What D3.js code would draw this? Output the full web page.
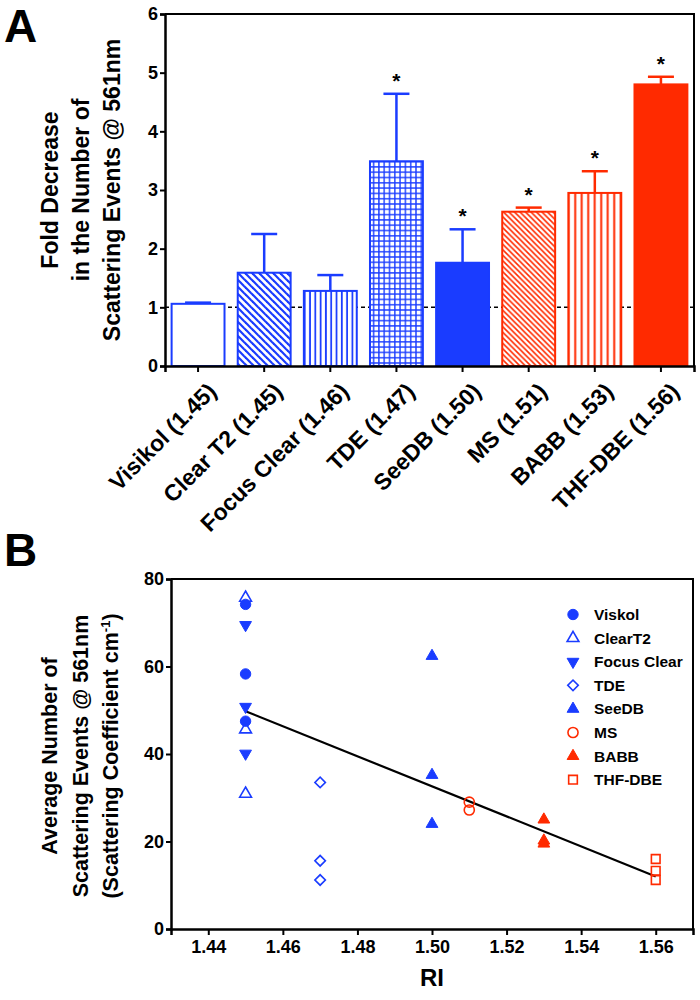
<!DOCTYPE html>
<html>
<head>
<meta charset="utf-8">
<script src="https://cdn.jsdelivr.net/npm/d3@7"></script>
<style>
body { margin: 0; background: #fff; }
svg { font-family: "Liberation Sans", Arial, sans-serif; font-weight: bold; }
</style>
</head>
<body>
<svg id="chart" width="700" height="1000"></svg>
<script>
// ---- panel A data ----
var solvents = ["Visikol (1.45)", "Clear T2 (1.45)", "Focus Clear (1.46)", "TDE (1.47)",
                "SeeDB (1.50)", "MS (1.51)", "BABB (1.53)", "THF-DBE (1.56)"];
var foldMeans = [1.06, 1.59, 1.28, 3.49, 1.76, 2.63, 2.95, 4.80];
var foldErrs  = [0.02, 0.66, 0.27, 1.15, 0.57, 0.07, 0.37, 0.13];
var foldSig   = [false, false, false, true, true, true, true, true];
var foldTicks = [0, 1, 2, 3, 4, 5, 6];

// ---- panel B data ----
var groupNames = ["Viskol", "ClearT2", "Focus Clear", "TDE", "SeeDB", "MS", "BABB", "THF-DBE"];
var groupRI    = [1.45, 1.45, 1.45, 1.47, 1.50, 1.51, 1.53, 1.56];
var viskolVals  = [74.2, 58.3, 47.5];
var clearT2Vals = [75.7, 45.6, 30.9];
var focusVals   = [69.5, 50.8, 40.1];
var tdeVals     = [33.5, 15.6, 11.2];
var seedbVals   = [62.4, 35.2, 24.0];
var msVals      = [29.0, 27.2];
var babbVals    = [25.0, 20.2, 19.5];
var thfVals     = [16.0, 13.3, 11.2];
var groupVals = [viskolVals, clearT2Vals, focusVals, tdeVals, seedbVals, msVals, babbVals, thfVals];
var riTicks = [1.44, 1.46, 1.48, 1.50, 1.52, 1.54, 1.56];
var scatTicks = [0, 20, 40, 60, 80];

var BLUE = "#1a3cff", RED = "#ff2a00";

var svg = d3.select("#chart");
var defs = svg.append("defs");

// hatch patterns
function linePattern(id, color, size, lines, sw) {
    var p = defs.append("pattern").attr("id", id).attr("patternUnits", "userSpaceOnUse")
        .attr("width", size).attr("height", size);
    p.append("rect").attr("width", size).attr("height", size).attr("fill", "#fff");
    lines.forEach(function(l) {
        p.append("line").attr("x1", l[0]).attr("y1", l[1]).attr("x2", l[2]).attr("y2", l[3])
            .attr("stroke", color).attr("stroke-width", sw);
    });
}
linePattern("diagBlue", BLUE, 7, [[0, 0, 7, 7], [-1, 6, 1, 8], [6, -1, 8, 1]], 2.2);
linePattern("vertBlue", BLUE, 5.3, [[2.6, 0, 2.6, 5.3]], 1.8);
linePattern("gridBlue", BLUE, 5.3, [[2.6, 0, 2.6, 5.3], [0, 2.6, 5.3, 2.6]], 1.4);
linePattern("diagRed", RED, 5.5, [[0, 0, 5.5, 5.5], [-1, 4.5, 1, 6.5], [4.5, -1, 6.5, 1]], 1.6);
linePattern("vertRed", RED, 6.5, [[3.2, 0, 3.2, 6.5]], 2);

var barFills = ["#fff", "url(#diagBlue)", "url(#vertBlue)", "url(#gridBlue)", BLUE,
                "url(#diagRed)", "url(#vertRed)", RED];
var barColors = [BLUE, BLUE, BLUE, BLUE, BLUE, RED, RED, RED];

// ================= Panel A =================
var ax0 = 165, ax1 = 694, ay0 = 366, ay1 = 14;
var xA = d3.scaleBand().domain(solvents).range([ax0, ax1]).paddingInner(0.2).paddingOuter(0.1);
var yA = d3.scaleLinear().domain([0, 6]).range([ay0, ay1]);

svg.append("text").attr("x", 4).attr("y", 42).attr("font-size", 46).text("A");

// dashed line at 1
svg.append("line").attr("x1", ax0).attr("x2", ax1).attr("y1", yA(1)).attr("y2", yA(1))
    .attr("stroke", "#000").attr("stroke-width", 1.5).attr("stroke-dasharray", "4,3");

var gA = svg.append("g");
gA.selectAll("rect.bar").data(solvents).enter().append("rect")
    .attr("class", "bar")
    .attr("x", function(d) { return xA(d); })
    .attr("y", function(d, i) { return yA(foldMeans[i]); })
    .attr("width", xA.bandwidth())
    .attr("height", function(d, i) { return yA(0) - yA(foldMeans[i]); })
    .attr("fill", function(d, i) { return barFills[i]; })
    .attr("stroke", function(d, i) { return barColors[i]; })
    .attr("stroke-width", 2);

// error bars (upper only)
solvents.forEach(function(d, i) {
    var cx = xA(d) + xA.bandwidth() / 2;
    var top = yA(foldMeans[i] + foldErrs[i]);
    gA.append("line").attr("x1", cx).attr("x2", cx).attr("y1", yA(foldMeans[i])).attr("y2", top)
        .attr("stroke", barColors[i]).attr("stroke-width", 2.5);
    gA.append("line").attr("x1", cx - 13).attr("x2", cx + 13).attr("y1", top).attr("y2", top)
        .attr("stroke", barColors[i]).attr("stroke-width", 2.5);
    if (foldSig[i]) {
        gA.append("text").attr("x", cx).attr("y", top - 6).attr("text-anchor", "middle")
            .attr("font-size", 21).text("*");
    }
});

// frame
svg.append("path").attr("d", "M" + ax0 + "," + ay1 + "H" + ax1 + "V" + ay0)
    .attr("fill", "none").attr("stroke", "#000").attr("stroke-width", 2);

var yAxisA = svg.append("g").attr("transform", "translate(" + ax0 + ",0)")
    .call(d3.axisLeft(yA).tickValues(foldTicks).tickSize(5).tickPadding(2).tickFormat(d3.format("d")));
var xAxisA = svg.append("g").attr("transform", "translate(0," + ay0 + ")")
    .call(d3.axisBottom(xA).tickSize(6).tickPadding(4));
[yAxisA, xAxisA].forEach(function(a) {
    a.select(".domain").attr("stroke-width", 2.5);
    a.selectAll(".tick line").attr("stroke-width", 2);
    a.selectAll("text").attr("font-family", null).attr("font-weight", "bold").attr("fill", "#000");
});
yAxisA.selectAll("text").attr("font-size", 18);
xAxisA.selectAll("text").attr("font-size", 23)
    .attr("text-anchor", "end").attr("dy", "0.35em")
    .attr("transform", "translate(7,14) rotate(-45)");

var yLabA = ["Fold Decrease", "in the Number of", "Scattering Events @ 561nm"];
yLabA.forEach(function(t, i) {
    var lx = 58 + i * 31;
    svg.append("text").attr("text-anchor", "middle").attr("font-size", 23)
        .attr("transform", "translate(" + lx + ",190) rotate(-90)").text(t);
});

// ================= Panel B =================
var bx0 = 171, bx1 = 693, by0 = 929, by1 = 579;
var xB = d3.scaleLinear().domain([1.43, 1.57]).range([bx0, bx1]);
var yB = d3.scaleLinear().domain([0, 80]).range([by0, by1]);

svg.append("text").attr("x", 4).attr("y", 566).attr("font-size", 46).text("B");

var markerStyles = [
    {shape: d3.symbolCircle, fill: true, color: BLUE, rot: 0},
    {shape: d3.symbolTriangle, fill: false, color: BLUE, rot: 0},
    {shape: d3.symbolTriangle, fill: true, color: BLUE, rot: 180},
    {shape: d3.symbolSquare, fill: false, color: BLUE, rot: 45},
    {shape: d3.symbolTriangle, fill: true, color: BLUE, rot: 0},
    {shape: d3.symbolCircle, fill: false, color: RED, rot: 0},
    {shape: d3.symbolTriangle, fill: true, color: RED, rot: 0},
    {shape: d3.symbolSquare, fill: false, color: RED, rot: 0}
];
var markerSizes = [85, 60, 60, 55, 60, 80, 60, 75];

function drawMarker(g, i, x, y) {
    var s = markerStyles[i];
    g.append("path")
        .attr("d", d3.symbol().type(s.shape).size(markerSizes[i])())
        .attr("transform", "translate(" + x + "," + y + ") rotate(" + s.rot + ")")
        .attr("fill", s.fill ? s.color : "none")
        .attr("stroke", s.color).attr("stroke-width", s.fill ? 1 : 1.6);
}

// regression line from all points
var allPts = [];
groupVals.forEach(function(vals, i) {
    vals.forEach(function(v) { allPts.push([groupRI[i], v]); });
});
var mx = d3.mean(allPts, function(p) { return p[0]; });
var my = d3.mean(allPts, function(p) { return p[1]; });
var sxy = d3.sum(allPts, function(p) { return (p[0] - mx) * (p[1] - my); });
var sxx = d3.sum(allPts, function(p) { return (p[0] - mx) * (p[0] - mx); });
var slope = sxy / sxx;
var riMin = d3.min(groupRI), riMax = d3.max(groupRI);
svg.append("line")
    .attr("x1", xB(riMin)).attr("y1", yB(my + slope * (riMin - mx)))
    .attr("x2", xB(riMax)).attr("y2", yB(my + slope * (riMax - mx)))
    .attr("stroke", "#000").attr("stroke-width", 2.2);

var gB = svg.append("g");
groupVals.forEach(function(vals, i) {
    vals.forEach(function(v) { drawMarker(gB, i, xB(groupRI[i]), yB(v)); });
});

// legend
var legY0 = 614.5, legStep = 23.6;
groupNames.forEach(function(n, i) {
    drawMarker(svg, i, 573, legY0 + i * legStep);
    svg.append("text").attr("x", 594).attr("y", legY0 + i * legStep).attr("dy", "0.35em")
        .attr("font-size", 15.5).text(n);
});

svg.append("path").attr("d", "M" + bx0 + "," + by1 + "H" + bx1 + "V" + by0)
    .attr("fill", "none").attr("stroke", "#000").attr("stroke-width", 2);

var yAxisB = svg.append("g").attr("transform", "translate(" + bx0 + ",0)")
    .call(d3.axisLeft(yB).tickValues(scatTicks).tickSize(5).tickPadding(2));
var xAxisB = svg.append("g").attr("transform", "translate(0," + by0 + ")")
    .call(d3.axisBottom(xB).tickValues(riTicks).tickSize(6).tickPadding(5).tickFormat(d3.format(".2f")));
[yAxisB, xAxisB].forEach(function(a) {
    a.select(".domain").attr("stroke-width", 2.5);
    a.selectAll(".tick line").attr("stroke-width", 2);
    a.selectAll("text").attr("font-family", null).attr("font-weight", "bold").attr("fill", "#000")
        .attr("font-size", 18);
});

svg.append("text").attr("x", (bx0 + bx1) / 2).attr("y", 986).attr("text-anchor", "middle")
    .attr("font-size", 24).text("RI");

var yLabB = svg.append("g");
yLabB.append("text").attr("text-anchor", "middle").attr("font-size", 21.5)
    .attr("transform", "translate(57,756) rotate(-90)").text("Average Number of");
yLabB.append("text").attr("text-anchor", "middle").attr("font-size", 21.5)
    .attr("transform", "translate(88,756) rotate(-90)").text("Scattering Events @ 561nm");
var l3 = yLabB.append("text").attr("text-anchor", "middle").attr("font-size", 21.5)
    .attr("transform", "translate(118,756) rotate(-90)");
l3.append("tspan").text("(Scattering Coefficient cm");
l3.append("tspan").attr("font-size", 13).attr("dy", -8).text("-1");
l3.append("tspan").attr("dy", 8).text(")");
</script>
</body>
</html>
